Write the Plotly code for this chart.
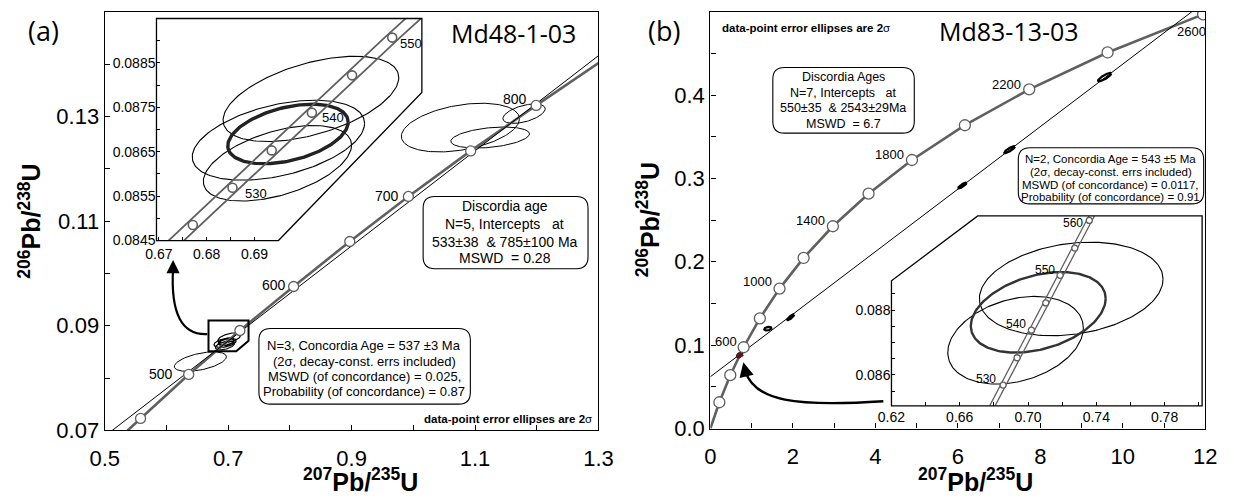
import numpy as np
import plotly.graph_objects as go

W, H = 1234, 498
FONT = "Liberation Sans, Arial, Helvetica, sans-serif"
HEAD_FONT = "Open Sans, Noto Sans, sans-serif"
GREY = "#606060"
NB = "\u00a0"

# ------------------------------------------------------------------
# Panel (a): Md48-1-03, main concordia diagram
# ------------------------------------------------------------------
conc_a_age = [450, 500, 550, 600, 650, 700, 750, 800]
conc_a_x = [0.558, 0.636, 0.719, 0.806, 0.897, 0.992, 1.093, 1.199]
conc_a_y = [0.0723, 0.0807, 0.0891, 0.0975, 0.1061, 0.1147, 0.1234, 0.1321]
conc_a_start = (0.537, 0.0700)
conc_a_end = (1.300, 0.1402)
conc_a_labels = [500, 600, 700, 800]

disc_a_x = [0.512, 1.300]
disc_a_y = [0.0700, 0.1416]

# data-point error ellipses (centre, 2-sigma half widths, error correlation)
ell_a_cx = [0.6549, 1.0763, 1.1245, 1.1794]
ell_a_cy = [0.08315, 0.12786, 0.12596, 0.13052]
ell_a_sx = [0.0422, 0.0957, 0.0637, 0.0343]
ell_a_sy = [0.00186, 0.00465, 0.00201, 0.00186]
ell_a_rho = [0.50, 0.36, 0.35, 0.50]

# enlarged view around 537 Ma
ins_a_age = [525, 530, 535, 540, 545, 550]
ins_a_x = [0.6771, 0.6854, 0.6936, 0.7020, 0.7104, 0.7188]
ins_a_y = [0.08485, 0.08569, 0.08653, 0.08738, 0.08822, 0.08907]
ins_a_start = (0.6688, 0.08401)
ins_a_end = (0.7274, 0.08991)
ins_a_labels = [530, 540, 550]

ell_ia_cx = [0.7018, 0.6950, 0.6948]
ell_ia_cy = [0.08769, 0.08676, 0.08624]
ell_ia_sx = [0.01837, 0.01802, 0.01550]
ell_ia_sy = [0.00096, 0.00090, 0.00085]
ell_ia_rho = [0.50, 0.42, 0.48]
# concordia-age ellipse (537 Ma)
cage_a = dict(cx=0.6970, cy=0.08690, sx=0.01259, sy=0.00067, rho=0.40)

# ------------------------------------------------------------------
# Panel (b): Md83-13-03
# ------------------------------------------------------------------
conc_b_age = [200, 400, 600, 800, 1000, 1200, 1400, 1600, 1800, 2000, 2200, 2400, 2600]
conc_b_x = [0.218, 0.483, 0.806, 1.199, 1.677, 2.260, 2.970, 3.835, 4.887, 6.170, 7.730, 9.630, 11.945]
conc_b_y = [0.0315, 0.0640, 0.0975, 0.1321, 0.1678, 0.2046, 0.2426, 0.2817, 0.3221, 0.3638, 0.4068, 0.4511, 0.4968]
conc_b_start = (0.0, 0.0)
conc_b_labels = [600, 1000, 1400, 1800, 2200, 2600]

disc_b_x = [0.0, 11.675]
disc_b_y = [0.0621, 0.5000]

ell_b_cx = [1.395, 1.947, 6.111, 7.254, 9.558]
ell_b_cy = [0.1198, 0.1335, 0.2916, 0.3345, 0.4215]
ell_b_sx = [0.090, 0.085, 0.100, 0.130, 0.160]
ell_b_sy = [0.0022, 0.0035, 0.0035, 0.0042, 0.0050]
ell_b_rho = [0.30, 0.85, 0.85, 0.85, 0.85]

ins_b_age = [530, 535, 540, 545, 550, 555, 560]
ins_b_x = [0.6854, 0.6936, 0.7020, 0.7104, 0.7188, 0.7274, 0.7359]
ins_b_y = [0.08569, 0.08653, 0.08738, 0.08822, 0.08907, 0.08991, 0.09076]
ins_b_start = (0.6688, 0.08401)
ins_b_end = (0.7446, 0.09160)
ins_b_labels = [530, 540, 550, 560]

ell_ib_cx = [0.7253, 0.6927]
ell_ib_cy = [0.08865, 0.08707]
ell_ib_sx = [0.0538, 0.0397]
ell_ib_sy = [0.00144, 0.00135]
ell_ib_rho = [0.21, 0.28]
cage_b = dict(cx=0.7060, cy=0.08793, sx=0.0395, sy=0.00124, rho=0.34)

# decay-constant uncertainty band of the concordia (half width in 207Pb/235U)
band_half = 0.0016

# ------------------------------------------------------------------
# tick definitions
# ------------------------------------------------------------------
ta_x = [0.5, 0.6, 0.7, 0.8, 0.9, 1.0, 1.1, 1.2, 1.3]
ta_xt = ["0.5", "", "0.7", "", "0.9", "", "1.1", "", "1.3"]
ta_y = [0.07, 0.08, 0.09, 0.10, 0.11, 0.12, 0.13, 0.14, 0.15]
ta_yt = ["0.07", "", "0.09", "", "0.11", "", "0.13", "", ""]
tb_x = list(range(0, 13))
tb_xt = [str(v) if v % 2 == 0 else "" for v in tb_x]
tb_y = [0.0, 0.05, 0.1, 0.15, 0.2, 0.25, 0.3, 0.35, 0.4, 0.45, 0.5]
tb_yt = ["0.0", "", "0.1", "", "0.2", "", "0.3", "", "0.4", "", ""]
tia_x = [0.67, 0.675, 0.68, 0.685, 0.69]
tia_xt = ["0.67", "", "0.68", "", "0.69"]
tia_y = [0.0845, 0.0850, 0.0855, 0.0860, 0.0865, 0.0870, 0.0875, 0.0880, 0.0885, 0.0890]
tia_yt = ["0.0845", "", "0.0855", "", "0.0865", "", "0.0875", "", "0.0885", ""]
tib_x = [0.62, 0.64, 0.66, 0.68, 0.70, 0.72, 0.74, 0.76, 0.78, 0.80]
tib_xt = ["0.62", "", "0.66", "", "0.70", "", "0.74", "", "0.78", ""]
tib_y = [0.0850, 0.0855, 0.0860, 0.0865, 0.0870, 0.0875, 0.0880, 0.0885]
tib_yt = ["", "", "0.086", "", "", "", "0.088", ""]

# ------------------------------------------------------------------
# layout geometry (pixels in the 1234 x 498 page)
# ------------------------------------------------------------------
BOX_A = dict(l=92, r=598, t=12, b=442, xr=[0.5, 1.3], yr=[0.07, 0.15])
BOX_B = dict(l=712.7, r=1220, t=12, b=440, xr=[0.0, 12.0], yr=[0.0, 0.5])
BOX_IA = dict(l=145, r=417, t=19, b=247, xr=[0.6695, 0.7250], yr=[0.0845, 0.0895])
BOX_IB = dict(l=898.3, r=1216.7, t=221.7, b=416.7, xr=[0.62, 0.802], yr=[0.08505, 0.0909])


def px(x):
    return x / W


def py(y):
    return 1 - y / H


def dom(box):
    return [px(box["l"]), px(box["r"])], [py(box["b"]), py(box["t"])]


def to_data(box, x, y):
    dx = box["xr"][0] + (x - box["l"]) / (box["r"] - box["l"]) * (box["xr"][1] - box["xr"][0])
    dy = box["yr"][0] + (box["b"] - y) / (box["b"] - box["t"]) * (box["yr"][1] - box["yr"][0])
    return dx, dy


def ellipse(cx, cy, sx, sy, rho, n=180):
    t = np.linspace(0, 2 * np.pi, n)
    return cx + sx * np.cos(t), cy + sy * (rho * np.cos(t) + np.sqrt(1 - rho ** 2) * np.sin(t))


fig = go.Figure()


def add_line(x, y, xa, ya, color="black", width=1.0):
    fig.add_trace(go.Scatter(x=x, y=y, mode="lines", xaxis=xa, yaxis=ya,
                             line=dict(color=color, width=width),
                             hoverinfo="skip", showlegend=False))


def add_markers(x, y, xa, ya, size, lw=1.3):
    fig.add_trace(go.Scatter(x=x, y=y, mode="markers", xaxis=xa, yaxis=ya,
                             marker=dict(symbol="circle", size=size, color="white",
                                         line=dict(color=GREY, width=lw)),
                             hoverinfo="skip", showlegend=False))


# ---------------- panel (a) main ----------------
for i in range(len(ell_a_cx)):
    ex, ey = ellipse(ell_a_cx[i], ell_a_cy[i], ell_a_sx[i], ell_a_sy[i], ell_a_rho[i])
    add_line(ex, ey, "x", "y", width=1.0)
for i in range(len(ell_ia_cx)):
    ex, ey = ellipse(ell_ia_cx[i], ell_ia_cy[i], ell_ia_sx[i], ell_ia_sy[i], ell_ia_rho[i])
    add_line(ex, ey, "x", "y", width=1.2)
ex, ey = ellipse(**cage_a)
add_line(ex, ey, "x", "y", width=1.8)

add_line([conc_a_start[0]] + conc_a_x + [conc_a_end[0]],
         [conc_a_start[1]] + conc_a_y + [conc_a_end[1]], "x", "y", color=GREY, width=2.6)
add_line(disc_a_x, disc_a_y, "x", "y", width=1.0)
add_markers(conc_a_x, conc_a_y, "x", "y", 10)

# ---------------- panel (a) enlarged view ----------------
for i in range(len(ell_ia_cx)):
    ex, ey = ellipse(ell_ia_cx[i], ell_ia_cy[i], ell_ia_sx[i], ell_ia_sy[i], ell_ia_rho[i])
    add_line(ex, ey, "x3", "y3", width=1.1)
ex, ey = ellipse(**cage_a)
add_line(ex, ey, "x3", "y3", width=3.4, color="#222222")
cx_a = [ins_a_start[0]] + ins_a_x + [ins_a_end[0]]
cy_a = [ins_a_start[1]] + ins_a_y + [ins_a_end[1]]
add_line([v - band_half for v in cx_a], cy_a, "x3", "y3", color=GREY, width=1.8)
add_line([v + band_half for v in cx_a], cy_a, "x3", "y3", color=GREY, width=1.8)
add_markers(ins_a_x, ins_a_y, "x3", "y3", 9, lw=1.6)

# ---------------- panel (b) main ----------------
add_line([conc_b_start[0]] + conc_b_x, [conc_b_start[1]] + conc_b_y, "x2", "y2", color=GREY, width=2.6)
add_line(disc_b_x, disc_b_y, "x2", "y2", width=1.0)
for i in range(len(ell_b_cx)):
    ex, ey = ellipse(ell_b_cx[i], ell_b_cy[i], ell_b_sx[i], ell_b_sy[i], ell_b_rho[i])
    add_line(ex, ey, "x2", "y2", width=2.2)
for i in range(len(ell_ib_cx)):
    ex, ey = ellipse(ell_ib_cx[i], ell_ib_cy[i], ell_ib_sx[i], ell_ib_sy[i], ell_ib_rho[i])
    add_line(ex, ey, "x2", "y2", width=3.0, color="#3a1010")
ex, ey = ellipse(**cage_b)
add_line(ex, ey, "x2", "y2", width=3.0, color="#5a1a1a")
add_markers(conc_b_x, conc_b_y, "x2", "y2", 11)

# ---------------- panel (b) enlarged view ----------------
for i in range(len(ell_ib_cx)):
    ex, ey = ellipse(ell_ib_cx[i], ell_ib_cy[i], ell_ib_sx[i], ell_ib_sy[i], ell_ib_rho[i])
    add_line(ex, ey, "x4", "y4", width=1.1)
ex, ey = ellipse(**cage_b)
add_line(ex, ey, "x4", "y4", width=2.4, color="#333333")
cx_b = [ins_b_start[0]] + ins_b_x + [ins_b_end[0]]
cy_b = [ins_b_start[1]] + ins_b_y + [ins_b_end[1]]
add_line([v - band_half for v in cx_b], cy_b, "x4", "y4", color=GREY, width=1.3)
add_line([v + band_half for v in cx_b], cy_b, "x4", "y4", color=GREY, width=1.3)
add_markers(ins_b_x, ins_b_y, "x4", "y4", 6, lw=1.3)


# ------------------------------------------------------------------
# axes
# ------------------------------------------------------------------
def axis(domain, rng, vals, text, anchor, size, ticklen, line=True, standoff=0):
    return dict(domain=domain, range=rng, tickmode="array", tickvals=vals, ticktext=text,
                ticks="inside", ticklen=ticklen, tickwidth=1, tickcolor="black",
                showline=line, mirror=line, linecolor="black", linewidth=1.4,
                showgrid=False, zeroline=False, anchor=anchor, fixedrange=True,
                ticklabelstandoff=standoff,
                tickfont=dict(family=FONT, size=size, color="black"))


dxa, dya = dom(BOX_A)
dxb, dyb = dom(BOX_B)
dxia, dyia = dom(BOX_IA)
dxib, dyib = dom(BOX_IB)

fig.update_layout(
    width=W, height=H, margin=dict(l=0, r=0, t=0, b=0),
    paper_bgcolor="white", plot_bgcolor="rgba(0,0,0,0)", showlegend=False,
    xaxis=axis(dxa, BOX_A["xr"], ta_x, ta_xt, "y", 22, 5, standoff=8),
    yaxis=axis(dya, BOX_A["yr"], ta_y, ta_yt, "x", 22, 5),
    xaxis2=axis(dxb, BOX_B["xr"], tb_x, tb_xt, "y2", 22, 5, standoff=8),
    yaxis2=axis(dyb, BOX_B["yr"], tb_y, tb_yt, "x2", 22, 5),
    xaxis3=axis(dxia, BOX_IA["xr"], tia_x, tia_xt, "y3", 14, 4, line=False, standoff=3),
    yaxis3=axis(dyia, BOX_IA["yr"], tia_y, tia_yt, "x3", 14, 4, line=False),
    xaxis4=axis(dxib, BOX_IB["xr"], tib_x, tib_xt, "y4", 14, 4, line=False, standoff=1),
    yaxis4=axis(dyib, BOX_IB["yr"], tib_y, tib_yt, "x4", 14, 4, line=False),
)

shapes = []
annos = []

# enlarged-view panels: white cut-corner panel with an outline
ia_poly = [(145, 247), (270, 247), (417, 95), (417, 19), (145, 19)]
ib_poly = [(898.3, 416.7), (1216.7, 416.7), (1216.7, 221.7), (986.7, 221.7), (898.3, 288.3)]
for poly, box, xa, ya in [(ia_poly, BOX_IA, "x3", "y3"), (ib_poly, BOX_IB, "x4", "y4")]:
    pts = [to_data(box, a, b) for a, b in poly]
    path = "M" + " L".join(f"{a:.6f},{b:.6f}" for a, b in pts) + " Z"
    shapes.append(dict(type="path", xref=xa, yref=ya, path=path, layer="below",
                       fillcolor="white", line=dict(width=0)))
    outline = "M" + " L".join(f"{px(a):.6f},{py(b):.6f}" for a, b in poly) + " Z"
    shapes.append(dict(type="path", xref="paper", yref="paper", path=outline, layer="above",
                       line=dict(color="black", width=1.3)))

# marker box on panel (a) showing the enlarged region
zoom_box = [(0.6681, 0.09102), (0.7330, 0.09102), (0.7330, 0.08712), (0.7130, 0.08513), (0.6681, 0.08513)]
shapes.append(dict(type="path", xref="x", yref="y",
                   path="M" + " L".join(f"{a},{b}" for a, b in zoom_box) + " Z",
                   line=dict(color="black", width=2.0), layer="above"))


def rrect(x0, y0, x1, y1, r):
    def p(a, b):
        return f"{px(a):.6f},{py(b):.6f}"
    return (f"M{p(x0 + r, y0)} L{p(x1 - r, y0)} Q{p(x1, y0)} {p(x1, y0 + r)} "
            f"L{p(x1, y1 - r)} Q{p(x1, y1)} {p(x1 - r, y1)} L{p(x0 + r, y1)} "
            f"Q{p(x0, y1)} {p(x0, y1 - r)} L{p(x0, y0 + r)} Q{p(x0, y0)} {p(x0 + r, y0)} Z")


for (x0, y0, x1, y1) in [(418.3, 201.7, 587.3, 276.0), (250.0, 337.3, 466.7, 415.0),
                         (776.7, 69.3, 921.7, 136.7), (1028.3, 151.7, 1218.3, 209.3)]:
    shapes.append(dict(type="path", xref="paper", yref="paper", path=rrect(x0, y0, x1, y1, 12),
                       fillcolor="white", line=dict(color="black", width=1.1), layer="above"))

# curved pointers from the small boxes to the enlarged views
shapes.append(dict(type="path", xref="paper", yref="paper",
                   path=f"M{px(197)},{py(343)} Q{px(158)},{py(345)} {px(162)},{py(276)}",
                   line=dict(color="black", width=2.2), layer="above"))
shapes.append(dict(type="path", xref="paper", yref="paper",
                   path=f"M{px(890)},{py(412)} C{px(800)},{py(418)} {px(758)},{py(412)} {px(748.5)},{py(381)}",
                   line=dict(color="black", width=2.4), layer="above"))
annos.append(dict(x=px(162), y=py(267), xref="paper", yref="paper", text="", showarrow=True,
                  ax=0, ay=14, arrowhead=2, arrowsize=1.2, arrowwidth=2.2, arrowcolor="black"))
annos.append(dict(x=px(746.5), y=py(372), xref="paper", yref="paper", text="", showarrow=True,
                  ax=3, ay=13, arrowhead=2, arrowsize=1.2, arrowwidth=2.4, arrowcolor="black"))


def txt(x, y, s, size, family=FONT, xanchor="center", yanchor="middle", angle=0):
    annos.append(dict(x=px(x), y=py(y), xref="paper", yref="paper", text=s, showarrow=False,
                      xanchor=xanchor, yanchor=yanchor, textangle=angle,
                      font=dict(family=family, size=size, color="black")))


# concordia age labels
lab_a = {500: ("right", -14, 0), 600: ("right", -6, 2), 700: ("right", -7, 0), 800: ("right", -7, 6)}
lab_ia = {530: ("left", 10, -6), 540: ("left", 8, -5), 550: ("left", 6, -6)}
lab_b = {600: ("right", -5, 6), 1000: ("right", -6, 7), 1400: ("right", -6, 6),
         1800: ("right", -6, 5), 2200: ("right", -6, 5), 2600: ("right", 5, -17)}
lab_ib = {530: ("right", -5, 6), 540: ("right", -3, 6), 550: ("right", -3, 5), 560: ("right", -4, -3)}

for ages, xs, ys, labs, style, xa, ya, size in [
        (conc_a_age, conc_a_x, conc_a_y, conc_a_labels, lab_a, "x", "y", 14),
        (ins_a_age, ins_a_x, ins_a_y, ins_a_labels, lab_ia, "x3", "y3", 13),
        (conc_b_age, conc_b_x, conc_b_y, conc_b_labels, lab_b, "x2", "y2", 13),
        (ins_b_age, ins_b_x, ins_b_y, ins_b_labels, lab_ib, "x4", "y4", 12)]:
    for age in labs:
        i = ages.index(age)
        anchor, xs_, ys_ = style[age]
        annos.append(dict(x=xs[i], y=ys[i], xref=xa, yref=ya, text=str(age), showarrow=False,
                          xanchor=anchor, yanchor="middle", xshift=xs_, yshift=ys_,
                          font=dict(family=FONT, size=size, color="black")))

# panel letters and sample names
txt(29, 31, "(a)", 27, HEAD_FONT)
txt(665, 31, "(b)", 27, HEAD_FONT)
txt(511, 34, "Md48-1-03", 25, HEAD_FONT)
txt(1019, 32, "Md83-13-03", 25, HEAD_FONT)

# axis titles
ytitle = "<b><sup>206</sup>Pb/<sup>238</sup>U</b>"
xtitle = "<b><sup>207</sup>Pb/<sup>235</sup>U</b>"
txt(15, 227, ytitle, 25, angle=-90)
txt(649, 226, ytitle, 25, angle=-90)
txt(354, 493, xtitle, 25)
txt(984, 493, xtitle, 25)

# result boxes
for y, s in zip([212, 230, 248, 265],
                ["Discordia age", f"N=5, Intercepts{NB*3}at",
                 f"533±38{NB*2}& 785±100 Ma", f"MSWD{NB*2}= 0.28"]):
    txt(502, y, s, 14)
for y, s in zip([355, 371, 387, 402],
                ["N=3, Concordia Age = 537 ±3 Ma", "(2σ, decay-const. errs included)",
                 "MSWD (of concordance) = 0.025,", "Probability (of concordance) = 0.87"]):
    txt(358, y, s, 13)
for y, s in zip([79.5, 95, 110.5, 127],
                ["Discordia Ages", f"N=7, Intercepts{NB*3}at",
                 f"550±35{NB*2}& 2543±29Ma", f"MSWD{NB*2}= 6.7"]):
    txt(849, y, s, 12.5)
for y, s in zip([163.3, 176.7, 190, 202.7],
                ["N=2, Concordia Age = 543 ±5 Ma", "(2σ, decay-const. errs included)",
                 "MSWD (of concordance) = 0.0117,", "Probability (of concordance) = 0.91"]):
    txt(1123, y, s, 11.5)

txt(593, 430, "<b>data-point error ellipses are 2</b>σ", 11.5, xanchor="right")
txt(723, 29, "<b>data-point error ellipses are 2</b>σ", 11.5, xanchor="left")

fig.update_layout(shapes=shapes, annotations=annos)
fig.write_html("out.html")
